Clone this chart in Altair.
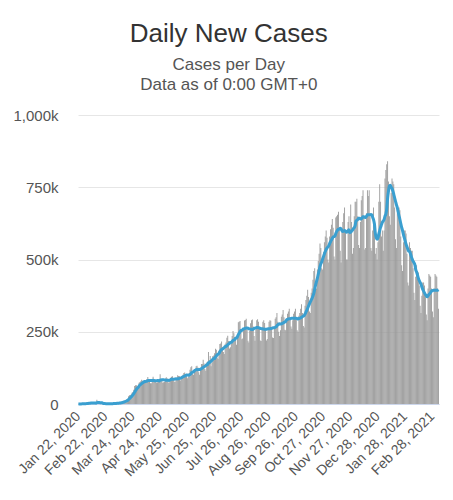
import altair as alt
import pandas as pd

START_DATE = "2020-01-22"

# daily new cases, in thousands (one row per week, Wed..Tue)
cases_k = [
    0.6, 0.1, 0.3, 0.5, 0.7, 0.8, 2.7,
    0.6, 2.1, 1.7, 2.1, 4.7, 3.1, 4.0,
    3.7, 3.2, 3.4, 2.7, 3.0, 2.6, 2.0,
    15.1, 6.5, 2.1, 2.1, 2.0, 1.9, 1.8,
    0.5, 0.6, 1.0, 1.1, 0.6, 0.6, 0.8,
    1.1, 1.0, 1.6, 1.8, 2.0, 1.8, 2.4,
    2.3, 2.8, 3.8, 4.0, 3.8, 4.3, 4.6,
    7.2, 7.4, 10.7, 10.9, 11.5, 13.7, 15.8,
    18.3, 27.0, 30.0, 31.5, 33.0, 38.8, 41.6,
    49.3, 61.9, 64.5, 64.8, 61.0, 57.1, 73.4,
    76.0, 78.7, 84.0, 80.6, 75.9, 74.0, 72.4,
    82.6, 86.4, 93.4, 85.3, 77.5, 72.2, 72.0,
    81.2, 94.3, 86.0, 81.0, 77.0, 73.5, 75.0,
    80.5, 86.2, 103.0, 86.0, 80.3, 73.7, 75.4,
    76.8, 88.0, 92.4, 88.3, 78.8, 72.4, 81.3,
    91.0, 94.6, 96.1, 88.2, 78.0, 76.5, 86.1,
    88.4, 99.5, 96.5, 96.1, 81.4, 88.5, 96.0,
    101.0, 107.3, 109.1, 102.0, 96.2, 89.1, 93.1,
    106, 118.5, 127, 131, 104, 101, 115,
    121, 131, 132, 126, 110, 101, 123,
    138, 138, 153, 140, 121, 115, 144,
    146, 180, 151, 166, 131, 143, 166,
    168, 176, 191, 188, 161, 156, 184,
    208, 209, 216, 196, 180, 173, 207,
    213, 229, 236, 218, 192, 196, 210,
    235, 253, 245, 232, 222, 205, 239,
    283, 285, 287, 258, 224, 227, 256,
    289, 291, 295, 258, 219, 213, 254,
    279, 290, 292, 268, 235, 219, 258,
    290, 293, 285, 262, 220, 218, 256,
    285, 290, 280, 262, 220, 225, 260,
    285, 290, 288, 265, 230, 228, 262,
    295, 300, 315, 285, 250, 235, 255,
    302, 310, 325, 300, 257, 255, 290,
    312, 320, 330, 300, 268, 260, 290,
    312, 320, 330, 300, 255, 250, 305,
    315, 330, 345, 315, 270, 265, 340,
    360, 375, 395, 370, 320, 315, 385,
    400, 430, 460, 470, 420, 400, 465,
    495, 520, 555, 540, 470, 465, 525,
    560, 580, 600, 575, 500, 490, 580,
    605, 620, 640, 610, 510, 500, 645,
    650, 655, 665, 610, 530, 490, 600,
    630, 660, 680, 600, 500, 500, 630,
    650, 590, 690, 630, 520, 540, 650,
    700, 700, 710, 650, 550, 540, 630,
    705, 720, 740, 650, 535, 540, 660,
    740, 720, 740, 650, 540, 530, 600,
    680, 620, 520, 540, 500, 560, 700,
    760, 700, 580, 600, 530, 600, 780,
    810, 830, 840, 770, 650, 620, 730,
    780, 770, 760, 680, 570, 540, 660,
    670, 680, 670, 580, 480, 460, 560,
    600, 600, 590, 520, 420, 410, 560,
    540, 530, 530, 470, 385, 360, 440,
    480, 460, 455, 410, 340, 315, 375,
    420, 420, 410, 370, 310, 290, 400,
    450, 445, 440, 400, 320, 300, 400,
    450, 445, 440, 400, 330,
]

tick_labels = [
    "Jan 22, 2020", "Feb 22, 2020", "Mar 24, 2020", "Apr 24, 2020",
    "May 25, 2020", "Jun 25, 2020", "Jul 26, 2020", "Aug 26, 2020",
    "Sep 26, 2020", "Oct 27, 2020", "Nov 27, 2020", "Dec 28, 2020",
    "Jan 28, 2021", "Feb 28, 2021",
]
y_ticks = [0, 250, 500, 750, 1000]

dates = pd.date_range(START_DATE, periods=len(cases_k), freq="D")
df = pd.DataFrame({
    "idx": range(len(cases_k)),
    "label": [f"{d.strftime('%b')} {d.day}, {d.year}" for d in dates],
    "cases": cases_k,
})

FONT = "Liberation Sans"

x_enc = alt.X(
    "label:O", sort=None, title=None,
    scale=alt.Scale(paddingInner=0, paddingOuter=0),
    axis=alt.Axis(
        values=tick_labels, labelAngle=-45, labelAlign="right",
        labelBaseline="middle", labelFontSize=14, labelColor="#555555",
        labelFont=FONT, labelPadding=10, ticks=False, domainColor="#ccd6eb",
        domainWidth=1, grid=False, labelOverlap=False,
    ),
)
y_scale = alt.Scale(domain=[0, 1000], nice=False)
y_axis = alt.Axis(
    values=y_ticks, title=None, ticks=False, domain=False,
    gridColor="#e6e6e6", labelFontSize=15, labelColor="#555555",
    labelFont=FONT, labelPadding=20,
    labelExpr="datum.value == 0 ? '0' : format(datum.value, ',') + 'k'",
)

bars = alt.Chart(df).mark_bar(color="#989898").encode(
    x=x_enc,
    y=alt.Y("cases:Q", scale=y_scale, axis=y_axis),
)

line = alt.Chart(df).transform_window(
    avg="mean(cases)", frame=[-6, 0], sort=[alt.SortField("idx")]
).mark_line(color="#3a9fd0", strokeWidth=3, interpolate="monotone").encode(
    x=alt.X("label:O", sort=None),
    y=alt.Y("avg:Q", scale=y_scale),
)

chart = alt.layer(bars, line).properties(
    width=437,
    height=475,
    autosize=alt.AutoSizeParams(type="fit", contains="padding"),
    padding={"left": 4, "right": 0, "top": 13, "bottom": 4},
    title=alt.TitleParams(
        text="Daily New Cases",
        subtitle=["Cases per Day", "Data as of 0:00 GMT+0"],
        font=FONT, fontSize=26, fontWeight="normal", color="#333333",
        subtitleFont=FONT, subtitleFontSize=17, subtitleColor="#555555",
        subtitleLineHeight=20, subtitlePadding=10,
        anchor="middle", frame="bounds", offset=15,
    ),
).configure_view(stroke=None)

chart.save("out.html", embed_options={"renderer": "svg", "actions": False})
